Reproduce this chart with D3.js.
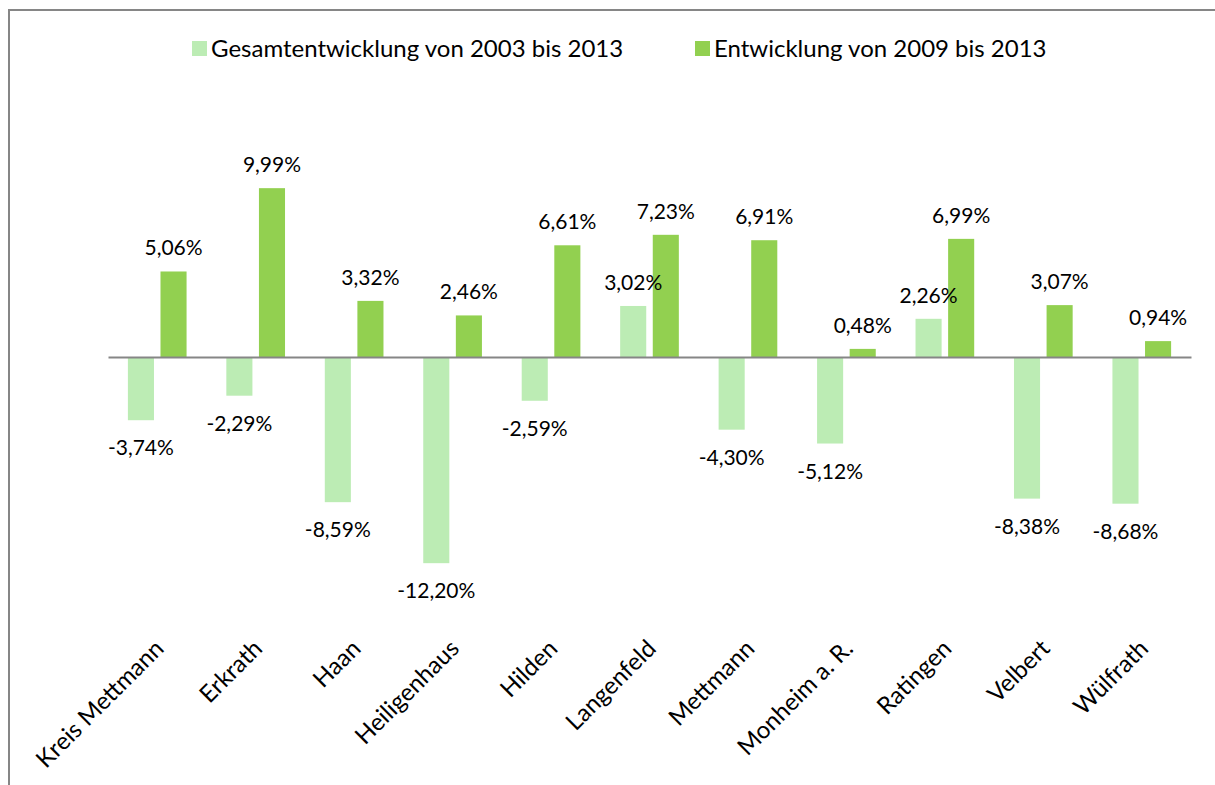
<!DOCTYPE html>
<html>
<head>
<meta charset="utf-8">
<script src="https://cdn.jsdelivr.net/npm/d3@7"></script>
<style>
  body { margin: 0; background: #fff; }
  svg { display: block; }
  text { font-family: Lato, "Open Sans", sans-serif; fill: #000; }
</style>
</head>
<body>
<svg id="chart" width="1215" height="785"></svg>
<script>
// data
var categories = ["Kreis Mettmann", "Erkrath", "Haan", "Heiligenhaus", "Hilden", "Langenfeld",
                  "Mettmann", "Monheim a. R.", "Ratingen", "Velbert", "Wülfrath"];
var seriesNames = ["Gesamtentwicklung von 2003 bis 2013", "Entwicklung von 2009 bis 2013"];
var gesamt = [-3.74, -2.29, -8.59, -12.20, -2.59, 3.02, -4.30, -5.12, 2.26, -8.38, -8.68];
var entwicklung = [5.06, 9.99, 3.32, 2.46, 6.61, 7.23, 6.91, 0.48, 6.99, 3.07, 0.94];
var colors = ["#bcecb4", "#92d050"];

var svg = d3.select("#chart");
var fmt = function (v) { return d3.format(".2f")(v).replace(".", ",").replace("−", "-") + "%"; };

// frame (cropped chart border)
svg.append("path")
    .attr("d", "M9,785V10H1215")
    .attr("fill", "none")
    .attr("stroke", "#868686")
    .attr("stroke-width", 2);

var x0 = d3.scaleBand().domain(categories).range([108, 1191]);
var x1 = d3.scaleBand().domain([0, 1]).range([0, x0.bandwidth()])
    .paddingInner(0.2).paddingOuter(0.61);
var y = d3.scaleLinear().domain([-14, 12]).range([593.6, 154.2]);

var rows = categories.map(function (c, i) {
    return { cat: c, vals: [gesamt[i], entwicklung[i]] };
});
var flat = [];
rows.forEach(function (r) {
    r.vals.forEach(function (v, k) { flat.push({ cat: r.cat, k: k, v: v }); });
});
var bx = function (d) { return x0(d.cat) + x1(d.k); };

// bars
svg.append("g").selectAll("rect").data(flat).enter().append("rect")
    .attr("x", bx)
    .attr("width", x1.bandwidth())
    .attr("y", function (d) { return y(Math.max(0, d.v)); })
    .attr("height", function (d) { return Math.abs(y(d.v) - y(0)); })
    .attr("fill", function (d) { return colors[d.k]; });

// zero axis line
svg.append("g")
    .attr("transform", "translate(0," + y(0) + ")")
    .call(d3.axisBottom(x0).tickSize(0).tickFormat(""))
    .call(function (g) {
        g.select(".domain").attr("stroke", "#868686").attr("stroke-width", 2);
    });

// value labels (on top of bars)
svg.append("g").selectAll("text").data(flat).enter().append("text")
    .attr("x", function (d) { return bx(d) + x1.bandwidth() / 2; })
    .attr("y", function (d) { return d.v >= 0 ? y(d.v) - 16 : y(d.v) + 35; })
    .attr("text-anchor", "middle")
    .style("font-size", "21px")
    .text(function (d) { return fmt(d.v); });

// category labels
svg.append("g").selectAll("text").data(categories).enter().append("text")
    .attr("transform", function (d) {
        return "translate(" + (x0(d) + x0.bandwidth() / 2 + 8) + ",650) rotate(-45)";
    })
    .attr("text-anchor", "end")
    .style("font-size", "24px")
    .text(function (d) { return d; });

// legend
var legendX = [192, 695];
var leg = svg.append("g").selectAll("g").data(seriesNames).enter().append("g")
    .attr("transform", function (d, i) { return "translate(" + legendX[i] + ",41)"; });
leg.append("rect").attr("width", 15).attr("height", 15)
    .attr("fill", function (d, i) { return colors[i]; });
leg.append("text").attr("x", 19).attr("y", 16)
    .style("font-size", "24px")
    .text(function (d) { return d; });
</script>
</body>
</html>
